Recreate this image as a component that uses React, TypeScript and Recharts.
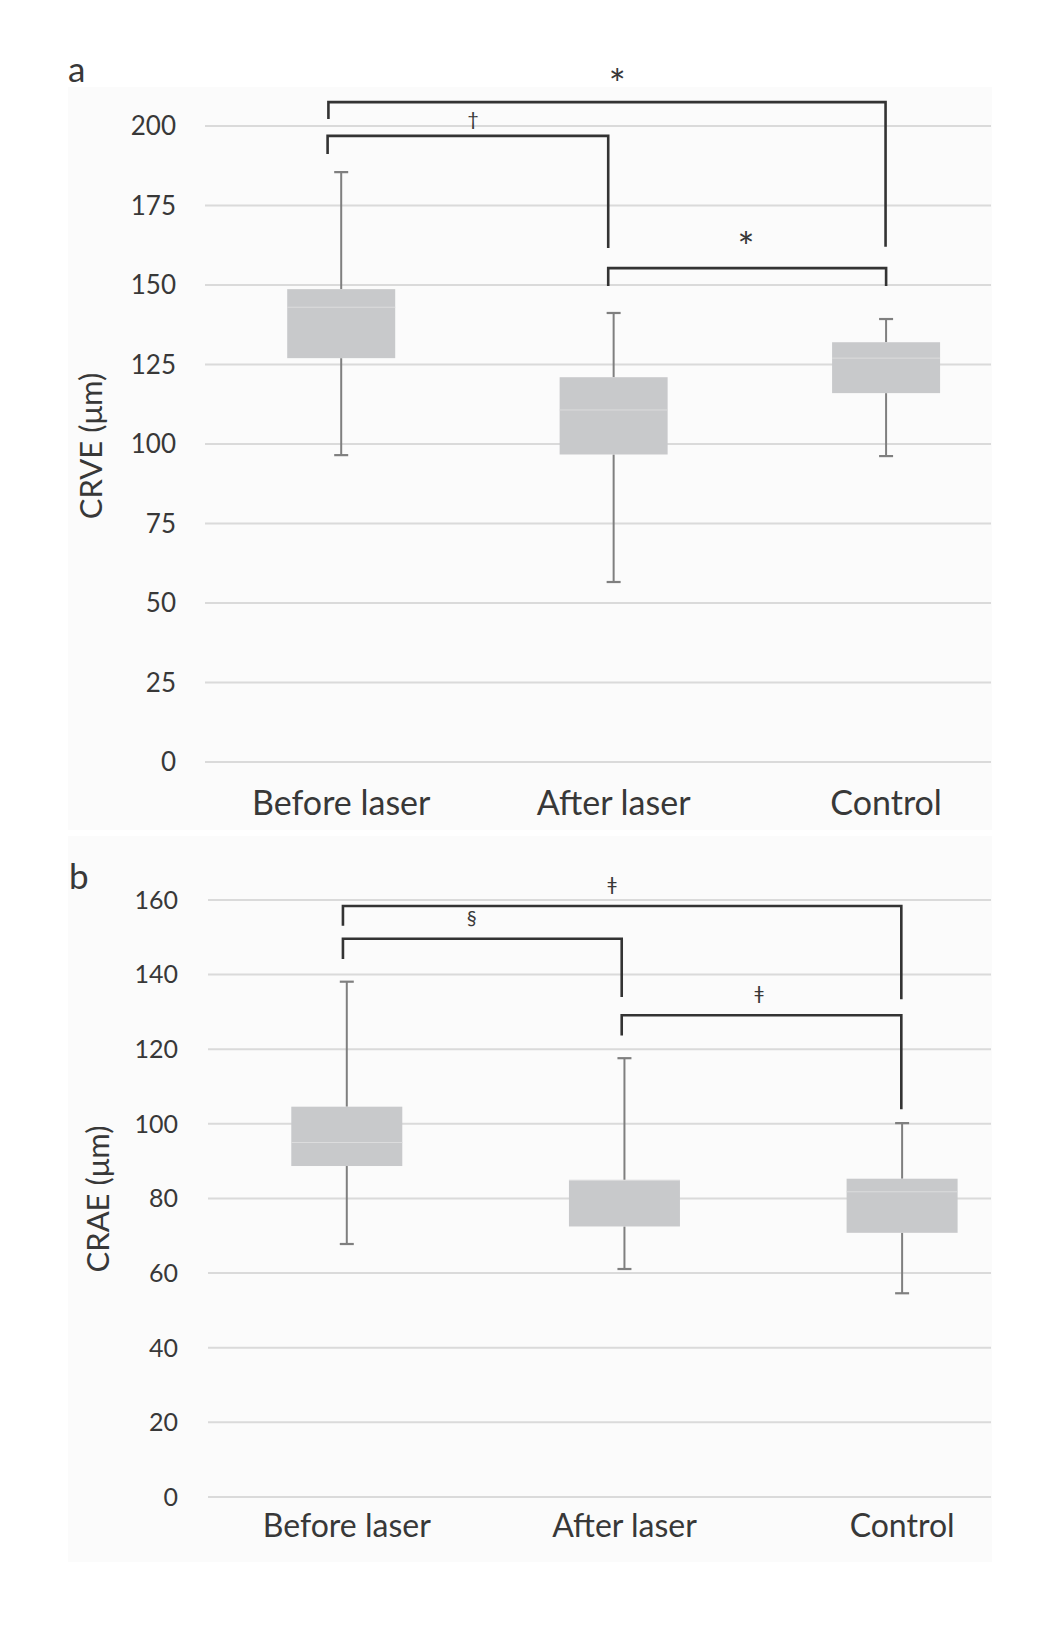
import React from 'react';
import { ComposedChart, Bar, Line, XAxis, YAxis, CartesianGrid, ReferenceDot } from 'recharts';

// ---------- data ----------
const categories = ['Before laser', 'After laser', 'Control'];
const categoryPositions = [1, 2, 3];

// Panel a: CRVE (µm)
const crveMin = [96.5, 56.6, 96.2];
const crveQ1 = [127.0, 96.7, 116.0];
const crveMedian = [143.0, 110.7, 127.0];
const crveQ3 = [148.7, 121.0, 132.0];
const crveMax = [185.5, 141.2, 139.3];
const crveTicks = [0, 25, 50, 75, 100, 125, 150, 175, 200];

// Panel b: CRAE (µm)
const craeMin = [67.8, 61.1, 54.6];
const craeQ1 = [88.7, 72.5, 70.8];
const craeMedian = [95.0, 84.9, 81.8];
const craeQ3 = [104.6, 84.9, 85.3];
const craeMax = [138.1, 117.6, 100.2];
const craeTicks = [0, 20, 40, 60, 80, 100, 120, 140, 160];

// significance brackets (x in category units, y in µm)
const crveBrackets = [
  { from: 0.953, to: 2.998, top: 207.5, leftEnd: 202.2, rightEnd: 162.0, mark: '*', markX: 2.013, markY: 216.0 },
  { from: 0.950, to: 1.980, top: 196.9, leftEnd: 191.2, rightEnd: 161.6, mark: '†', markX: 1.484, markY: 201.9 },
  { from: 1.980, to: 3.000, top: 155.3, leftEnd: 149.7, rightEnd: 149.7, mark: '*', markX: 2.486, markY: 164.8 },
];
const craeBrackets = [
  { from: 0.986, to: 2.997, top: 158.4, leftEnd: 153.1, rightEnd: 133.4, mark: 'ǂ', markX: 1.955, markY: 163.9 },
  { from: 0.986, to: 1.990, top: 149.6, leftEnd: 144.2, rightEnd: 134.0, mark: '§', markX: 1.450, markY: 154.9 },
  { from: 1.990, to: 2.997, top: 129.1, leftEnd: 123.7, rightEnd: 103.9, mark: 'ǂ', markX: 2.485, markY: 134.8 },
];

// ---------- styles ----------
const FONT = 'Lato, "DejaVu Sans", sans-serif';
const TEXT = '#383838';
const BOX = '#c8c9cb';
const WHISKER = '#7f7f7f';
const GRID = '#dadada';
const BRACKET = '#333333';

function buildRows(mn: number[], q1: number[], md: number[], q3: number[], mx: number[]) {
  return categories.map((name, i) => ({
    x: categoryPositions[i],
    name,
    range: [mn[i], mx[i]],
    min: mn[i],
    q1: q1[i],
    median: md[i],
    q3: q3[i],
    max: mx[i],
  }));
}

function BoxShape(props: any) {
  const { x, y, width, height, payload, boxWidth } = props;
  if (!payload || x == null || y == null) return null;
  const { min, q1, median, q3, max } = payload;
  const span = max - min;
  const py = (v: number) => y + (height * (max - v)) / span;
  const cx = x + (width || 0) / 2;
  const bx = cx - boxWidth / 2;
  const cap = 7;
  return (
    <g>
      <line x1={cx} x2={cx} y1={py(max)} y2={py(q3)} stroke={WHISKER} strokeWidth={2} />
      <line x1={cx} x2={cx} y1={py(q1)} y2={py(min)} stroke={WHISKER} strokeWidth={2} />
      <line x1={cx - cap} x2={cx + cap} y1={py(max)} y2={py(max)} stroke={WHISKER} strokeWidth={2.2} />
      <line x1={cx - cap} x2={cx + cap} y1={py(min)} y2={py(min)} stroke={WHISKER} strokeWidth={2.2} />
      <rect x={bx} y={py(q3)} width={boxWidth} height={py(q1) - py(q3)} fill={BOX} />
      <line x1={bx} x2={bx + boxWidth} y1={py(median)} y2={py(median)} stroke="#dcdcdd" strokeWidth={1} />
    </g>
  );
}

const markShift: Record<string, number> = { '*': 0.6, '†': 0.3, '§': 0.3, 'ǂ': 0.3 };
const markSize: Record<string, number> = { '*': 40, '†': 20, '§': 20, 'ǂ': 20 };

function MarkLabel(mark: string) {
  return (p: any) => {
    const vb = p.viewBox || {};
    const cx = vb.x + (vb.width || 0) / 2;
    const cy = vb.y + (vb.height || 0) / 2;
    const fs = markSize[mark];
    return (
      <text x={cx} y={cy + markShift[mark] * fs} textAnchor="middle" fontSize={fs} fill={TEXT} fontFamily={FONT}>
        {mark}
      </text>
    );
  };
}

type PanelProps = {
  rows: any[];
  ticks: number[];
  yMax: number;
  xDomain: [number, number];
  brackets: any[];
  width: number;
  height: number;
  margin: any;
  xAxisHeight: number;
  boxWidth: number;
  tickFont: number;
  tickMargin: number;
  catFont: number;
  catDy: number;
  title: string;
  titlePos: [number, number];
  titleFont: number;
  letter: string;
  letterPos: [number, number];
};

function Panel(p: PanelProps) {
  const xTick = (props: any) => {
    const { x, y, payload } = props;
    return (
      <text x={x} y={y} dy={p.catDy} textAnchor="middle" fontSize={p.catFont} fill={TEXT} fontFamily={FONT}>
        {categories[categoryPositions.indexOf(payload.value)]}
      </text>
    );
  };
  const yLabel = () => (
    <g>
      <text
        transform={`translate(${p.titlePos[0]},${p.titlePos[1]}) rotate(-90)`}
        textAnchor="middle"
        dominantBaseline="central"
        fontSize={p.titleFont}
        fill={TEXT}
        fontFamily={FONT}
      >
        {p.title}
      </text>
      <text x={p.letterPos[0]} y={p.letterPos[1]} fontSize={35} fill={TEXT} fontFamily={FONT}>
        {p.letter}
      </text>
    </g>
  );
  return (
    <ComposedChart width={p.width} height={p.height} data={p.rows} margin={p.margin}>
      <CartesianGrid horizontal vertical={false} horizontalValues={p.ticks} stroke={GRID} strokeWidth={2} />
      <XAxis
        type="number"
        dataKey="x"
        domain={p.xDomain}
        ticks={categoryPositions}
        allowDataOverflow
        axisLine={false}
        tickLine={false}
        tickSize={0}
        tickMargin={0}
        height={p.xAxisHeight}
        tick={xTick}
        interval={0}
      />
      <YAxis
        type="number"
        domain={[0, p.yMax]}
        ticks={p.ticks}
        allowDataOverflow
        axisLine={false}
        tickLine={false}
        tickSize={0}
        tickMargin={p.tickMargin}
        width={100}
        interval={0}
        tick={{ fontSize: p.tickFont, fill: TEXT, fontFamily: FONT }}
        label={{ content: yLabel }}
      />
      <Bar dataKey="range" barSize={p.boxWidth} shape={<BoxShape boxWidth={p.boxWidth} />} isAnimationActive={false} />
      {p.brackets.map((b, i) => (
        <Line
          key={'br' + i}
          data={[
            { x: b.from, y: b.leftEnd },
            { x: b.from, y: b.top },
            { x: b.to, y: b.top },
            { x: b.to, y: b.rightEnd },
          ]}
          dataKey="y"
          type="linear"
          stroke={BRACKET}
          strokeWidth={2.6}
          strokeLinejoin="miter"
          strokeLinecap="butt"
          dot={false}
          activeDot={false}
          isAnimationActive={false}
        />
      ))}
      {p.brackets.map((b, i) => (
        <ReferenceDot
          key={'mk' + i}
          x={b.markX}
          y={b.markY}
          r={1}
          fill="none"
          stroke="none"
          label={{ content: MarkLabel(b.mark) }}
        />
      ))}
    </ComposedChart>
  );
}

export default function App() {
  const rowsA = buildRows(crveMin, crveQ1, crveMedian, crveQ3, crveMax);
  const rowsB = buildRows(craeMin, craeQ1, craeMedian, craeQ3, craeMax);
  return (
    <div style={{ position: 'absolute', left: 0, top: 0, width: 1059, height: 1626, background: '#ffffff', overflow: 'hidden' }}>
      <div style={{ position: 'absolute', left: 68, top: 87, width: 924, height: 743, background: '#fbfbfb' }} />
      <div style={{ position: 'absolute', left: 68, top: 836, width: 924, height: 726, background: '#fbfbfb' }} />
      <div style={{ position: 'absolute', left: 0, top: 0 }}>
        <Panel
          rows={rowsA}
          ticks={crveTicks}
          yMax={225}
          xDomain={[0.5, 3.385]}
          brackets={crveBrackets}
          width={1059}
          height={830}
          margin={{ top: 46.5, right: 68, bottom: 0, left: 105 }}
          xAxisHeight={68}
          boxWidth={108}
          tickFont={26}
          tickMargin={29}
          catFont={34}
          catDy={53}
          title="CRVE (μm)"
          titlePos={[90, 446]}
          titleFont={31}
          letter="a"
          letterPos={[68, 82]}
        />
      </div>
      <div style={{ position: 'absolute', left: 0, top: 820 }}>
        <Panel
          rows={rowsB}
          ticks={craeTicks}
          yMax={175}
          xDomain={[0.5, 3.32]}
          brackets={craeBrackets}
          width={1059}
          height={806}
          margin={{ top: 24, right: 68, bottom: 0, left: 108 }}
          xAxisHeight={129}
          boxWidth={111}
          tickFont={25}
          tickMargin={30}
          catFont={32}
          catDy={40}
          title="CRAE (μm)"
          titlePos={[96.5, 379]}
          titleFont={31}
          letter="b"
          letterPos={[69, 69]}
        />
      </div>
    </div>
  );
}
